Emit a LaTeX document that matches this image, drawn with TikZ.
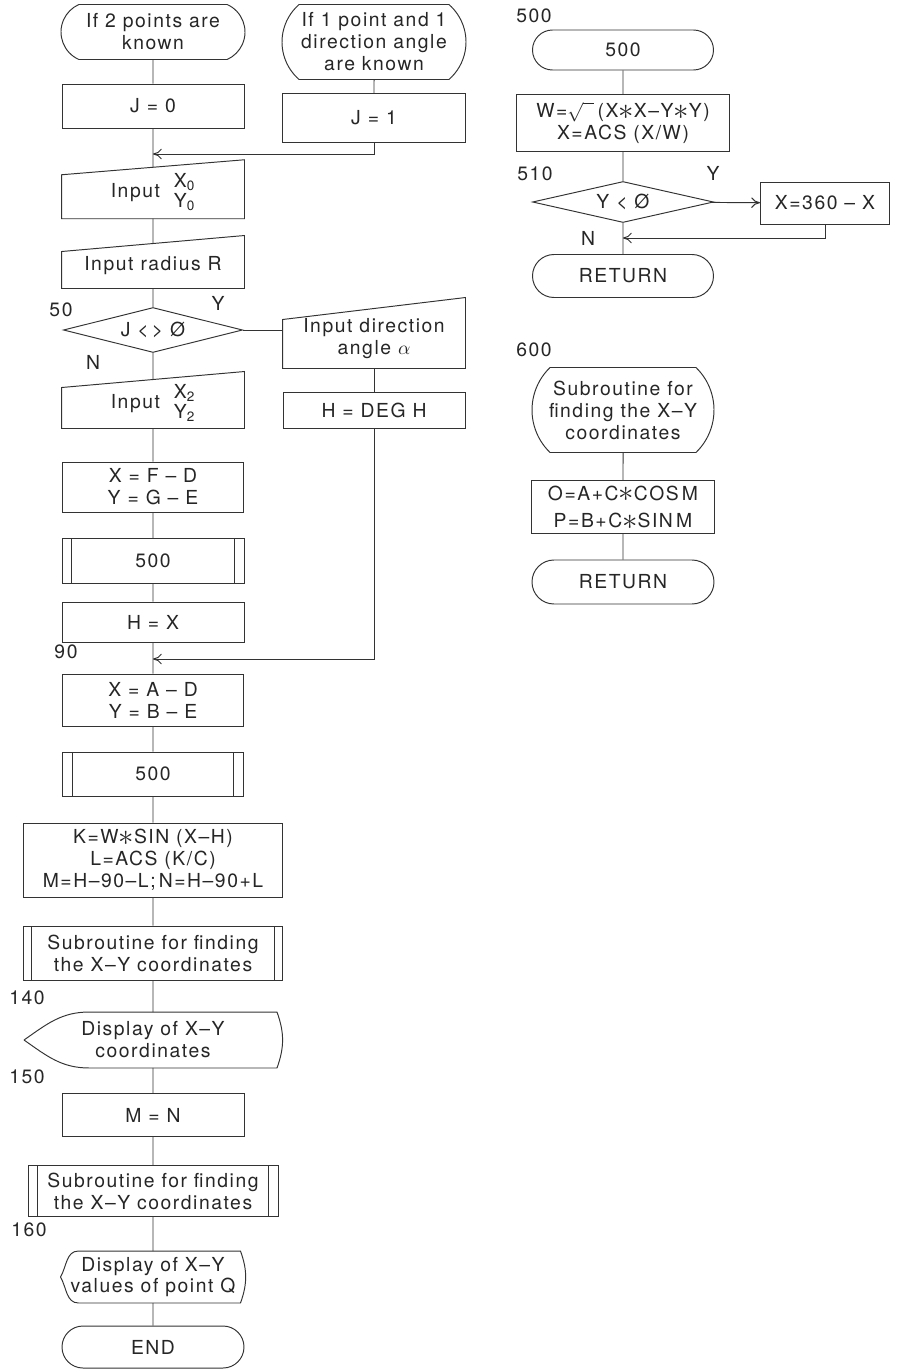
\documentclass[tikz,border=0pt]{standalone}
\usepackage{fontspec}
\setmainfont{TeX Gyre Heros}[LetterSpace=8]
\usetikzlibrary{arrows, arrows.meta}
\usetikzlibrary{shapes.geometric, shapes.misc}
\usetikzlibrary{math}
\newcommand{\mstar}{\smash{\raisebox{-0.15ex}{\scalebox{1.6}{$\ast$}}}}
\newcommand{\xystack}[2]{{\def\arraystretch{0.85}\begin{tabular}{@{}l@{}}#1\\#2\end{tabular}}}

\begin{document}
\begin{tikzpicture}[x=0.02cm, y=-0.02cm, line width=0.55pt, draw=black!80, text=black!85,
  font=\fontsize{11}{12.5}\selectfont,
  sz/.style 2 args={minimum width=#1*0.02cm, minimum height=#2*0.02cm},
  term/.style={rounded rectangle, rounded rectangle arc length=#1, draw, inner sep=0pt, align=center},
  term/.default=180,
  proc/.style={rectangle, draw, inner sep=0pt, align=center},
  subr/.style={proc, path picture={
    \draw ([xshift=#1]path picture bounding box.north west) -- ([xshift=#1]path picture bounding box.south west)
          ([xshift=-#1]path picture bounding box.north east) -- ([xshift=-#1]path picture bounding box.south east);}},
  subr/.default=5.5pt,
  dec/.style={diamond, aspect=4, draw, inner sep=0pt},
  txt/.style={inner sep=0pt, align=center},
  lbl/.style={inner sep=0pt}]
\tikzmath{
\xl=153;
\xm=374;
\xr=623;
}
\fill[white] (0,0) rectangle (901,1369);
\useasboundingbox (0,0) rectangle (901,1369);

% left column
\node[term=132, sz={184}{55}] (s1) at (\xl,32) {If 2 points are\\known};
\node[proc, sz={182}{44}] (j0) at (\xl,106) {J = 0};
\node[txt, sz={182}{50.5}] (in0) at (\xl,193) {Input\ \ \xystack{X\textsubscript{0}}{Y\textsubscript{0}}};
\node[txt, sz={182}{44}] (inR) at (\xl,266) {Input radius R};
\node[dec, sz={179}{45}] (d50) at (\xl,330) {J {<}\,{>} Ø};
\node[txt, sz={182}{48}] (in2) at (\xl,404) {Input\ \ \xystack{X\textsubscript{2}}{Y\textsubscript{2}}};
\node[proc, sz={181}{50}] (c1) at (\xl,487) {X = F -- D\\Y = G -- E};
\node[subr, sz={182}{45}] (p1) at (\xl,561) {500};
\node[proc, sz={182}{40}] (hx) at (\xl,622) {H = X};
\node[proc, sz={181}{52}] (c2) at (\xl,700) {X = A -- D\\Y = B -- E};
\node[subr, sz={181}{44}] (p2) at (\xl,774) {500};
\node[proc, sz={259}{74}] (kw) at (\xl,860) {K=W\mstar SIN (X--H)\\L=ACS (K/C)\\M=H--90--L;\,N=H--90+L};
\node[subr=4.5pt, sz={259}{54}] (sub1) at (\xl,953) {Subroutine for finding\\the X--Y coordinates};
\node[txt, sz={257}{55}] (disp1) at (\xl,1040) {Display of X--Y\\coordinates};
\node[proc, sz={182}{43}] (mn) at (\xl,1115) {M = N};
\node[subr, sz={250}{51}] (sub2) at (\xl,1191) {Subroutine for finding\\the X--Y coordinates};
\node[txt, sz={184}{51}] (disp2) at (\xl,1277) {Display of X--Y\\values of point Q};
\node[term, sz={182}{42}] (fin) at (\xl,1347) {END};

% middle column
\node[term=98, sz={184}{75}] (s2) at (\xm,42) {If 1 point and 1\\direction angle\\are known};
\node[proc, sz={183}{49}] (j1) at (\xm,118) {J = 1};
\node[txt, sz={182}{59}] (ina) at (\xm,338.5) {Input direction\\angle $\alpha$};
\node[proc, sz={182}{36}] (hd) at (\xm,410) {H = DEG H};

% right column
\node[term, sz={181}{40}] (r500) at (\xr,50) {500};
\node[proc, sz={213}{57}] (wb) at (\xr,123) {W=$\sqrt{\phantom{x}}$\,(X\mstar X--Y\mstar Y)\\X=ACS (X/W)};
\node[dec, sz={181}{41}] (d510) at (\xr,202) {Y < Ø};
\node[proc, sz={129}{42}] (x360) at (825,203) {X=360 -- X};
\node[term, sz={181}{43}] (ret1) at (\xr,276) {RETURN};
\node[term=92, sz={182}{85}] (sbr) at (\xr,410) {Subroutine for\\finding the X--Y\\coordinates};
\node[proc, sz={183}{53}] (ob) at (\xr,507) {O=A+C\mstar COS\,M\\[3pt]P=B+C\mstar SIN\,M};
\node[term, sz={182}{44}] (ret2) at (\xr,582) {RETURN};

% line numbers and branch labels
\node[lbl] (l50) at (61,310) {50};
\node[lbl] (ly1) at (218,303) {Y};
\node[lbl] (ln1) at (93,362) {N};
\node[lbl] (l90) at (66,652) {90};
\node[lbl] (l140) at (27,998) {140};
\node[lbl] (l150) at (27,1077) {150};
\node[lbl] (l160) at (29,1230) {160};
\node[lbl] (l500) at (534,16) {500};
\node[lbl] (l510) at (535,174) {510};
\node[lbl] (ly2) at (713,173) {Y};
\node[lbl] (ln2) at (588,238) {N};
\node[lbl] (l600) at (534,350) {600};

% outlines of input and display boxes
\foreach \n/\s in {in0/15,inR/16,in2/16,ina/22}
  \draw ([shift={(0,\s/2)}]\n.north west) -- ([shift={(0,-\s/2)}]\n.north east) -- (\n.south east) -- (\n.south west) -- cycle;
\foreach \n/\d/\a in {disp1/65/35,disp2/18/60}
  \draw (\n.west) to[out=\a,in=180] ([shift={(\d,0)}]\n.north west) -- ([shift={(-5,0)}]\n.north east)
    to[bend left=20] ([shift={(-5,0)}]\n.south east) -- ([shift={(\d,0)}]\n.south west) to[out=180,in=-\a] (\n.west);

\coordinate (m1) at (\xl,154);
\coordinate (m2) at (\xl,659);
\coordinate (m3) at (\xr,238);

% flow lines
\draw (s1) -- (j0) -- (in0) -- (inR) -- (d50) -- (in2) -- (c1) -- (p1) -- (hx) -- (c2) -- (p2) -- (kw) -- (sub1) -- (disp1) -- (mn) -- (sub2) -- (disp2) -- (fin);
\draw (s2) -- (j1);
\draw[-{To[length=5pt,width=6pt]}] (j1.south) |- (m1);
\draw (d50.east) -- (d50.east -| ina.west);
\draw (ina) -- (hd);
\draw[-{To[length=5pt,width=6pt]}] (hd.south) |- (m2);
\draw (r500) -- (wb) -- (d510) -- (ret1);
\draw[-{To[length=5pt,width=6pt]}] (d510) -- (x360);
\draw[-{To[length=5pt,width=6pt]}] (x360.south) |- (m3);
\draw (sbr) -- (ob) -- (ret2);

\end{tikzpicture}
\end{document}
